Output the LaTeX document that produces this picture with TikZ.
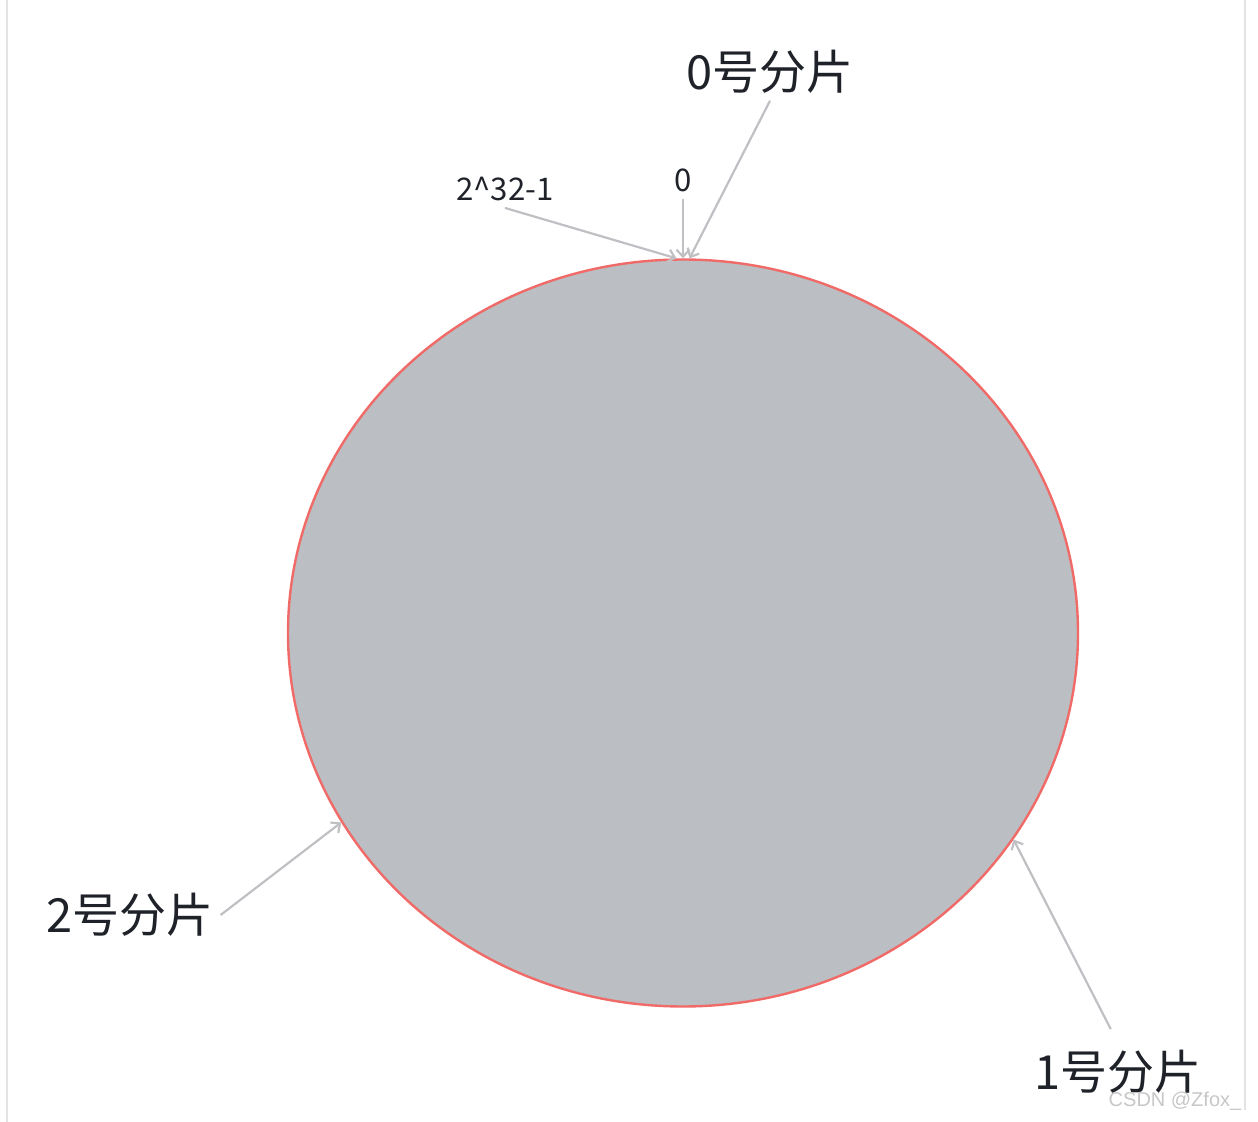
\documentclass[tikz,border=0pt]{standalone}
\usepackage{fontspec}
\setmainfont{Noto Sans CJK SC}
\newfontfamily\wmfont{Liberation Sans}
\usetikzlibrary{shapes.geometric}
\usetikzlibrary{arrows.meta}

\definecolor{ringfill}{HTML}{BBBEC2}
\definecolor{ringline}{HTML}{F06A68}
\definecolor{pointer}{HTML}{C0C0C4}
\definecolor{labeltext}{HTML}{1F2329}
\definecolor{frameline}{HTML}{E4E4E4}

\begin{document}
\begin{tikzpicture}[x=0.5pt,y=-0.5pt]
        \tikzset{
          ring/.style={
            ellipse,
            draw=ringline,
            fill=ringfill,
            line width=1.2pt,
            inner sep=0pt,
            minimum width=395pt,
            minimum height=373.5pt,
          },
          shard/.style={
            text=labeltext,
            font=\fontsize{23.5}{28}\selectfont,
          },
          hashval/.style={
            text=labeltext,
            font=\fontsize{15.6}{19}\selectfont,
          },
          wm/.style={
            text=black!22,
            font=\wmfont\fontsize{10}{12}\selectfont,
          },
          ptr/.style={
            draw=pointer,
            line width=1.1pt,
            -{Straight Barb[length=3.5pt,width=6.5pt]},
          },
        }
        \useasboundingbox (0,0) rectangle (1258,1122);
        \draw[frameline, line width=0.8pt] (7,0) -- (7,1122);
        \draw[frameline, line width=0.8pt] (1245,0) -- (1245,1110);

        \node[ring] (ring) at (683,633) {};
        \node[shard] (sh0) at (770,72) {0号分片};
        \node[shard] (sh2) at (130,915) {2号分片};
        \node[shard] (sh1) at (1118,1072) {1号分片};
        \node[hashval] (zero) at (683,180) {0};
        \node[hashval] (last) at (505,189) {2\textasciicircum32-1};
        \node[wm] (csdn) at (1175,1101) {CSDN @Zfox\_};

        \draw[ptr] (zero.south) -- (ring.north);
        \draw[ptr] (last.south) -- (ring.91);
        \draw[ptr] (sh0.south) -- (ring.89.5);
        \draw[ptr] (sh2.east) -- (ring.209.4);
        \draw[ptr, shorten <=8pt] (sh1.north) -- (ring.328.5);
      \end{tikzpicture}
\end{document}
